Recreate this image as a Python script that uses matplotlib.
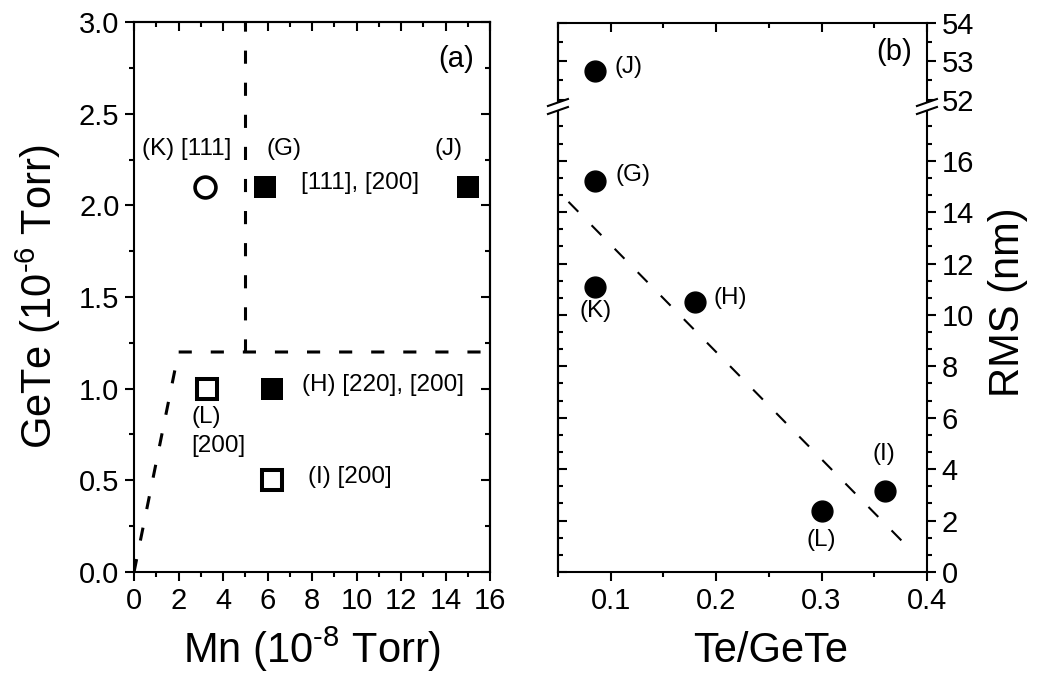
import matplotlib
matplotlib.use('Agg')
import matplotlib.pyplot as plt
from matplotlib.ticker import MultipleLocator, AutoMinorLocator
from matplotlib.patches import Polygon
from matplotlib.lines import Line2D

plt.rcParams['font.family'] = ['Liberation Sans', 'DejaVu Sans']
plt.rcParams['mathtext.fontset'] = 'custom'
plt.rcParams['mathtext.rm'] = 'Liberation Sans'
plt.rcParams['mathtext.it'] = 'Liberation Sans:italic'
plt.rcParams['mathtext.default'] = 'regular'

# ---- panel (a): GeTe vs Mn flux ----
k_mn = [3.2]
k_gete = [2.1]
filled_mn = [5.9, 15.0, 6.2]      # G, J, H
filled_gete = [2.1, 2.1, 1.0]
open_mn = [3.3, 6.2]              # L, I
open_gete = [1.0, 0.5]
bound_mn = [0, 2, 16]
bound_gete = [0, 1.2, 1.2]
split_mn = [5, 5]
split_gete = [1.2, 3.0]

labels_a = ['(K) [111]', '(G)', '(J)', '[111], [200]', '(H) [220], [200]',
            '(L)', '[200]', '(I) [200]']
labels_a_x = [0.35, 5.97, 13.5, 7.49, 7.55, 2.56, 2.56, 7.82]
labels_a_y = [2.31, 2.31, 2.31, 2.12, 1.02, 0.845, 0.687, 0.52]

# ---- panel (b): RMS vs Te/GeTe ----
sample_b = ['(J)', '(G)', '(K)', '(H)', '(L)', '(I)']
te_gete = [0.085, 0.085, 0.085, 0.18, 0.30, 0.36]
rms = [52.75, 15.2, 11.1, 10.5, 2.37, 3.15]
fit_x = [0.06, 0.38]
fit_y = [14.4, 1.05]

labels_b_x = [0.104, 0.105, 0.086, 0.198, 0.30, 0.359]
labels_b_y = [52.85, 15.45, 10.15, 10.67, 1.25, 4.6]
labels_b_ha = ['left', 'left', 'center', 'left', 'center', 'center']

TICK = dict(length=6.5, width=1.5, labelsize=21, pad=4)
MINOR = dict(length=3.5, width=1.5)
ANN = 17.5

fig = plt.figure(figsize=(10.48, 6.75), dpi=100)
ax_a = fig.add_axes([0.1279, 0.1526, 0.3397, 0.8148])
ax_lo = fig.add_axes([0.5324, 0.1526, 0.3521, 0.6844])
ax_hi = fig.add_axes([0.5324, 0.8474, 0.3521, 0.1185])

for ax in (ax_a, ax_lo, ax_hi):
    for s in ax.spines.values():
        s.set_linewidth(1.5)

# panel (a)
ax_a.plot(bound_mn, bound_gete, color='black', lw=2.2, ls=(0, (4.3, 6.2)))
ax_a.plot(split_mn, split_gete, color='black', lw=2.2, ls=(0, (4.3, 6.2)))
ax_a.plot(k_mn, k_gete, 'o', ms=15, mfc='white', mec='black', mew=2.6, ls='none')
ax_a.plot(filled_mn, filled_gete, 's', ms=16.5, mfc='black', mec='black', mew=0, ls='none')
ax_a.plot(open_mn, open_gete, 's', ms=13.7, mfc='white', mec='black', mew=2.9, ls='none')
for t, x, y in zip(labels_a, labels_a_x, labels_a_y):
    ax_a.text(x, y, t, fontsize=ANN, ha='left', va='center')
ax_a.text(15.26, 2.80, '(a)', fontsize=21, ha='right', va='center')

ax_a.set_xlim(0, 16)
ax_a.set_ylim(0, 3.0)
ax_a.xaxis.set_major_locator(MultipleLocator(2))
ax_a.xaxis.set_minor_locator(MultipleLocator(1))
ax_a.yaxis.set_major_locator(MultipleLocator(0.5))
ax_a.yaxis.set_minor_locator(MultipleLocator(0.25))
ax_a.tick_params(which='both', direction='out', top=False, right=False)
ax_a.tick_params(which='major', **TICK)
ax_a.tick_params(which='minor', **MINOR)
sec = ax_a.secondary_xaxis('top')
sec.xaxis.set_major_locator(MultipleLocator(2))
sec.xaxis.set_minor_locator(MultipleLocator(1))
sec.tick_params(which='both', direction='in', labeltop=False)
sec.tick_params(which='major', length=6.5, width=1.5)
sec.tick_params(which='minor', **MINOR)
sec.spines['top'].set_linewidth(1.5)
sec = ax_a.secondary_yaxis('right')
sec.yaxis.set_major_locator(MultipleLocator(0.5))
sec.yaxis.set_minor_locator(MultipleLocator(0.25))
sec.tick_params(which='both', direction='in', labelright=False)
sec.tick_params(which='major', length=6.5, width=1.5)
sec.tick_params(which='minor', **MINOR)
sec.spines['right'].set_linewidth(1.5)

ax_a.set_xlabel(r'Mn (10$^{\text{-}8}$ Torr)', fontsize=30)
ax_a.xaxis.set_label_coords(0.5, -0.096)
ax_a.set_ylabel(r'GeTe (10$^{\text{-}6}$ Torr)', fontsize=30)
ax_a.yaxis.set_label_coords(-0.2, 0.5)

# panel (b), broken axis
ax_lo.set_ylim(0, 17.97)
ax_hi.set_ylim(51.91, 54)
for ax in (ax_lo, ax_hi):
    ax.plot(fit_x, fit_y, color='black', lw=1.5, ls=(0, (6.7, 9.1)))
    ax.plot(te_gete, rms, 'o', ms=15, color='black', ls='none')
    lo, hi = ax.get_ylim()
    for t, x, y, ha in zip(sample_b, labels_b_x, labels_b_y, labels_b_ha):
        if lo <= y <= hi:
            ax.text(x, y, t, fontsize=ANN, ha=ha, va='center')
    ax.set_xlim(0.05, 0.4)
    ax.xaxis.set_major_locator(MultipleLocator(0.1))
    ax.xaxis.set_minor_locator(MultipleLocator(0.05))
    ax.yaxis.tick_right()
    ax.tick_params(axis='y', which='both', direction='out', left=False, right=True)
    ax.tick_params(which='major', **TICK)
    ax.tick_params(which='minor', **MINOR)

ax_hi.text(0.386, 53.24, '(b)', fontsize=21, ha='right', va='center')

ax_lo.yaxis.set_major_locator(MultipleLocator(2))
ax_lo.yaxis.set_minor_locator(AutoMinorLocator(3))
ax_lo.spines['top'].set_visible(False)
ax_lo.tick_params(axis='x', which='both', direction='out', top=False)

ax_hi.yaxis.set_major_locator(MultipleLocator(1))
ax_hi.yaxis.set_minor_locator(MultipleLocator(0.5))
ax_hi.spines['bottom'].set_visible(False)
ax_hi.xaxis.tick_top()
ax_hi.tick_params(axis='x', which='both', direction='in', labeltop=False, bottom=False)

for ax, mj, mn in ((ax_lo, MultipleLocator(2), AutoMinorLocator(3)),
                   (ax_hi, MultipleLocator(1), MultipleLocator(0.5))):
    sec = ax.secondary_yaxis('left')
    sec.yaxis.set_major_locator(mj)
    sec.yaxis.set_minor_locator(mn)
    sec.tick_params(which='both', direction='in', labelleft=False)
    sec.tick_params(which='major', length=6.5, width=1.5)
    sec.tick_params(which='minor', **MINOR)
    sec.spines['left'].set_linewidth(1.5)

ax_lo.set_xlabel('Te/GeTe', fontsize=30)
ax_lo.xaxis.set_label_coords(0.575, -0.128)
fig.text(1008 / 1048, 1 - 302 / 675, 'RMS (nm)', fontsize=30, rotation=90,
         ha='center', va='center')

# break marks on the (b) axis
def draw_break(xf, yf):
    dx, dy, off = 10 / 1048, 3.5 / 675, 4 / 675
    fig.add_artist(Polygon([(xf - dx, yf - dy - off), (xf + dx, yf + dy - off),
                            (xf + dx, yf + dy + off), (xf - dx, yf - dy + off)],
                           closed=True, transform=fig.transFigure,
                           facecolor='white', edgecolor='none', zorder=5))
    for o in (-off, off):
        fig.add_artist(Line2D([xf - dx, xf + dx], [yf - dy + o, yf + dy + o],
                              transform=fig.transFigure, color='black', lw=1.5, zorder=6))

draw_break(0.5324, 1 - 106.5 / 675)
draw_break(0.5324 + 0.3521, 1 - 106.5 / 675)

fig.savefig('out.png', dpi=100)
